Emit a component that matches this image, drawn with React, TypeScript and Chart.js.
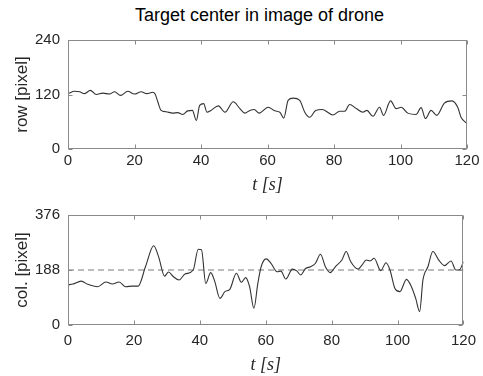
import React, { useEffect, useRef } from "react";
import { Chart, registerables } from "chart.js";

Chart.register(...registerables);

const chartTitle = "Target center in image of drone";
const xTicks = [0, 20, 40, 60, 80, 100, 120];
const rowTicks = [0, 120, 240];
const colTicks = [0, 188, 376];
const colReference = 188;

const rowT = [0, 2, 3.5, 5, 6.7, 8.5, 10.5, 12.5, 14, 15.8, 18, 20, 22, 23.7, 25.5, 26.2, 27, 28, 29.5, 31.5, 33, 34.5, 36, 37.4, 38.6, 39.6, 40.8, 41.8, 43, 45.2, 47.2, 49.7, 51.7, 53.2, 54.7, 56, 57.5, 60.2, 62.2, 63.7, 64.9, 66.2, 67.7, 69.7, 71.2, 72.7, 74.5, 76.5, 79.7, 81.7, 83.2, 84.7, 86.7, 88.7, 89.9, 91.7, 93.7, 94.9, 97, 98.7, 100.2, 102.2, 104.7, 106.2, 107.5, 109.2, 110.9, 113.2, 115.5, 117.2, 118.2, 120];
const rowValues = [122, 127, 126, 122, 129, 120, 123, 121, 126, 118, 127, 121, 126, 122, 125, 121, 104, 85, 82, 79, 80, 76, 84, 85, 63, 96, 100, 81, 85, 95, 81, 104, 89, 79, 85, 87, 79, 92, 84, 81, 68, 107, 112, 107, 81, 70, 85, 87, 75, 83, 83, 98, 89, 81, 85, 72, 92, 74, 106, 89, 92, 79, 76, 91, 67, 85, 74, 101, 106, 92, 70, 56];

const colT = [0, 1.5, 4, 6, 9, 11.5, 13.5, 15.5, 17.5, 19.5, 21.3, 23.5, 26, 27.5, 29.3, 30.5, 32, 33.7, 35.5, 38, 39.5, 40.5, 41.8, 43.3, 44.5, 46.1, 47.6, 49.1, 51.1, 52.6, 53.9, 55.1, 56.4, 57.6, 58.6, 60.1, 61.6, 63.4, 64.6, 66.1, 68.1, 69.4, 70.6, 72.1, 73.6, 75.1, 76.6, 78.1, 79.6, 81.1, 83.1, 84.4, 85.8, 88, 89.2, 90.5, 91.7, 92.9, 94.9, 96.5, 97.7, 99.2, 100.7, 102.7, 104.2, 105.5, 106.7, 107.7, 109.2, 110.7, 112.5, 114.2, 116.2, 117.7, 118.7, 120];
const colValues = [137, 140, 150, 139, 131, 147, 140, 147, 131, 133, 133, 199, 271, 233, 167, 181, 165, 154, 174, 188, 259, 257, 142, 179, 150, 91, 114, 122, 177, 146, 162, 131, 57, 142, 199, 226, 211, 182, 184, 157, 191, 185, 171, 193, 199, 211, 242, 199, 179, 199, 222, 251, 216, 191, 205, 222, 219, 228, 186, 213, 188, 125, 114, 156, 131, 91, 46, 154, 199, 251, 222, 203, 219, 188, 188, 216];

const SANS = "'Liberation Sans', Arial, Helvetica, sans-serif";
const TEXT = "#262626";

const boxPlugin = {
  id: "matlabBox",
  afterDatasetsDraw(chart: any, _args: any, opts: any) {
    const { ctx, chartArea, scales } = chart;
    const l = Math.round(chartArea.left) + 0.5;
    const r = Math.round(chartArea.right) - 0.5;
    const t = Math.round(chartArea.top) + 0.5;
    const b = Math.round(chartArea.bottom) - 0.5;
    ctx.save();
    ctx.strokeStyle = "#8a8a8a";
    ctx.lineWidth = 1;
    ctx.setLineDash([]);
    ctx.strokeRect(l, t, r - l, b - t);
    const len = 4;
    ctx.beginPath();
    for (const v of opts.xTicks) {
      const x = Math.round(scales.x.getPixelForValue(v)) + 0.5;
      ctx.moveTo(x, b);
      ctx.lineTo(x, b - len);
      ctx.moveTo(x, t);
      ctx.lineTo(x, t + len);
    }
    for (const v of opts.yTicks) {
      const y = Math.round(scales.y.getPixelForValue(v)) + 0.5;
      ctx.moveTo(l, y);
      ctx.lineTo(l + len, y);
      ctx.moveTo(r, y);
      ctx.lineTo(r - len, y);
    }
    ctx.stroke();
    ctx.restore();
  },
};

type PanelProps = {
  height: number;
  top: number;
  t: number[];
  values: number[];
  yTicks: number[];
  yLabel: string;
  padTop: number;
  xAxisHeight: number;
  xTickPad: number;
  reference?: number;
};

function Panel(p: PanelProps) {
  const ref = useRef<HTMLCanvasElement>(null);
  useEffect(() => {
    if (!ref.current) return;
    const datasets: any[] = [
      {
        data: p.t.map((x, i) => ({ x, y: p.values[i] })),
        borderColor: "#333333",
        borderWidth: 1.1,
        pointRadius: 0,
        cubicInterpolationMode: "monotone",
        fill: false,
      },
    ];
    if (p.reference !== undefined) {
      datasets.push({
        data: [
          { x: xTicks[0], y: p.reference },
          { x: xTicks[xTicks.length - 1], y: p.reference },
        ],
        borderColor: "#7a7a7a",
        borderWidth: 1,
        borderDash: [6, 4],
        pointRadius: 0,
        fill: false,
      });
    }
    const chart = new Chart(ref.current, {
      type: "line",
      data: { datasets },
      plugins: [boxPlugin],
      options: {
        animation: false,
        responsive: false,
        events: [],
        layout: { padding: { left: 0, right: 16, top: p.padTop, bottom: 0 } },
        plugins: {
          legend: { display: false },
          tooltip: { enabled: false },
          title: { display: false },
          matlabBox: { xTicks, yTicks: p.yTicks },
        } as any,
        scales: {
          x: {
            type: "linear",
            min: xTicks[0],
            max: xTicks[xTicks.length - 1],
            afterBuildTicks: (s: any) => {
              s.ticks = xTicks.map((v) => ({ value: v }));
            },
            afterFit: (s: any) => {
              s.height = p.xAxisHeight;
            },
            grid: { display: false, drawTicks: false },
            border: { display: false },
            ticks: { color: TEXT, font: { family: SANS, size: 15 }, padding: p.xTickPad, maxRotation: 0 },
            title: {
              display: true,
              text: "t [s]",
              color: TEXT,
              font: { family: "'Liberation Serif', 'DejaVu Serif', serif", style: "italic", size: 18 },
              padding: 0,
            },
          },
          y: {
            type: "linear",
            min: p.yTicks[0],
            max: p.yTicks[p.yTicks.length - 1],
            afterBuildTicks: (s: any) => {
              s.ticks = p.yTicks.map((v) => ({ value: v }));
            },
            afterFit: (s: any) => {
              s.width = 68;
            },
            grid: { display: false, drawTicks: false },
            border: { display: false },
            ticks: { color: TEXT, font: { family: SANS, size: 15 }, padding: 8 },
            title: {
              display: true,
              text: p.yLabel,
              color: TEXT,
              font: { family: SANS, size: 17 },
              padding: { top: 12, bottom: 0 },
            },
          },
        },
      } as any,
    });
    return () => chart.destroy();
  }, []);
  return (
    <canvas
      ref={ref}
      width={483}
      height={p.height}
      style={{ position: "absolute", left: 0, top: p.top, width: 483, height: p.height, display: "block" }}
    />
  );
}

export default function App() {
  return (
    <div style={{ position: "absolute", left: 0, top: 0, width: 483, height: 376, background: "#fff", overflow: "hidden" }}>
      <div
        style={{
          position: "absolute",
          left: 59.5,
          width: 400,
          top: 5.5,
          textAlign: "center",
          fontFamily: SANS,
          fontSize: 18,
          lineHeight: "18px",
          color: "#000",
          whiteSpace: "nowrap",
        }}
      >
        {chartTitle}
      </div>
      <Panel
        height={196}
        top={0}
        t={rowT}
        values={rowValues}
        yTicks={rowTicks}
        yLabel="row [pixel]"
        padTop={40}
        xAxisHeight={47}
        xTickPad={3}
      />
      <Panel
        height={180}
        top={196}
        t={colT}
        values={colValues}
        yTicks={colTicks}
        yLabel="col. [pixel]"
        padTop={19}
        xAxisHeight={51}
        xTickPad={7}
        reference={colReference}
      />
    </div>
  );
}
